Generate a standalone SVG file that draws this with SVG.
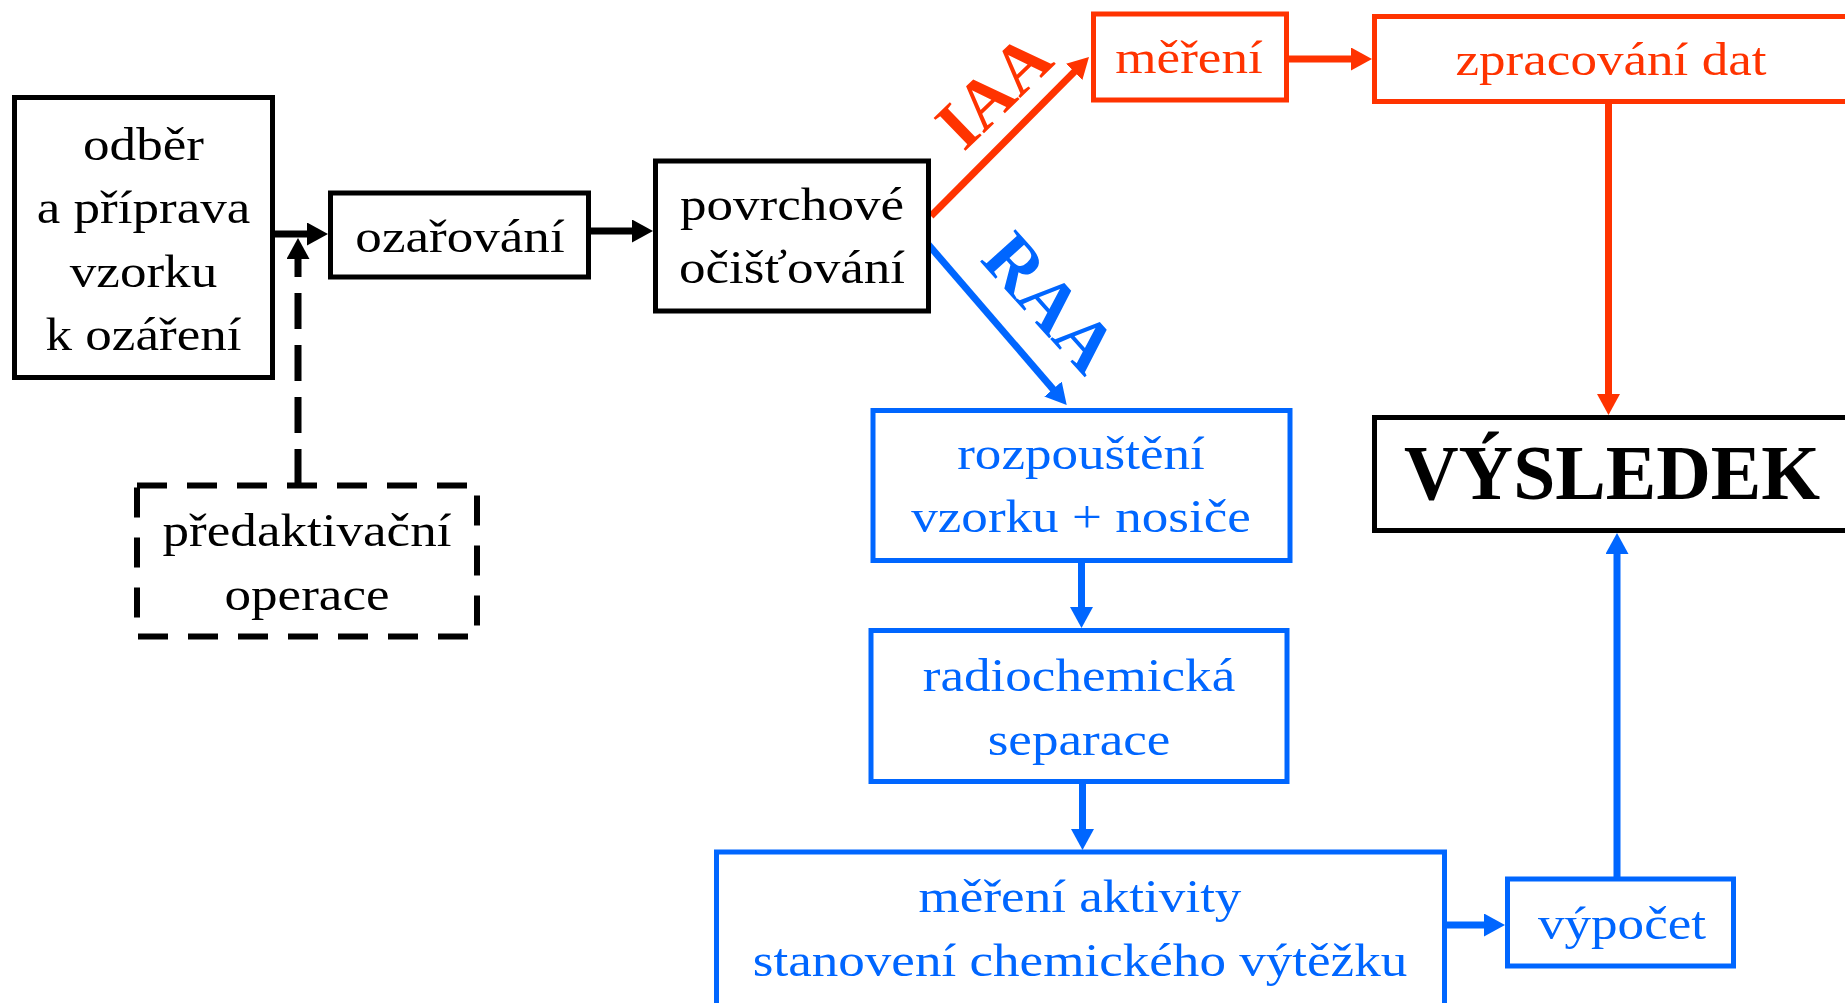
<svg xmlns="http://www.w3.org/2000/svg" width="1845" height="1003" viewBox="0 0 1845 1003">
<style>
.bx{fill:#fff;stroke-width:5}
.k{stroke:#000}.r{stroke:#ff3300}.b{stroke:#0066ff}
.dash{stroke-dasharray:30 20;stroke-width:6}
text{font-family:"Liberation Serif","Times New Roman",serif;font-size:47px;text-anchor:middle}
.tk{fill:#000}.tr{fill:#ff3300}.tb{fill:#0066ff}
.bold{font-weight:bold}
.c{fill:none;stroke-width:7}
</style>
<defs>
<marker id="ak" viewBox="0 0 21 23" refX="2" refY="11.5" markerWidth="21" markerHeight="23" markerUnits="userSpaceOnUse" orient="auto"><path d="M0,0L21,11.5L0,23z" fill="#000"/></marker>
<marker id="ar" viewBox="0 0 21 23" refX="2" refY="11.5" markerWidth="21" markerHeight="23" markerUnits="userSpaceOnUse" orient="auto"><path d="M0,0L21,11.5L0,23z" fill="#ff3300"/></marker>
<marker id="ab" viewBox="0 0 21 23" refX="2" refY="11.5" markerWidth="21" markerHeight="23" markerUnits="userSpaceOnUse" orient="auto"><path d="M0,0L21,11.5L0,23z" fill="#0066ff"/></marker>
</defs>
<rect width="1845" height="1003" fill="#fff"/>
<g id="connectors">
<path class="c k" d="M275,234H309" marker-end="url(#ak)"/>
<path class="c k" d="M591,231H634" marker-end="url(#ak)"/>
<path class="c k" d="M298,485V257" stroke-dasharray="36 16" marker-end="url(#ak)"/>
<path class="c r" d="M931,216L1075.6,70.5" marker-end="url(#ar)"/>
<path class="c b" d="M927,243L1054.3,390.6" marker-end="url(#ab)"/>
<path class="c r" d="M1288,59H1353" marker-end="url(#ar)"/>
<path class="c r" d="M1608.5,103.5V396" marker-end="url(#ar)"/>
<path class="c b" d="M1081.5,562.5V609" marker-end="url(#ab)"/>
<path class="c b" d="M1082.5,783.5V831" marker-end="url(#ab)"/>
<path class="c b" d="M1447,925H1486" marker-end="url(#ab)"/>
<path class="c b" d="M1617,877V552" marker-end="url(#ab)"/>
<text class="tr bold" transform="translate(1010,108) rotate(-44)" style="font-size:70px">IAA</text>
<text class="tb bold" transform="translate(1032,319) rotate(48)" style="font-size:73px">RAA</text>
</g>
<g id="odber">
<rect class="bx k" x="14.5" y="97.5" width="258" height="280"/>
<text class="tk" transform="translate(143.5,160) scale(1.13 1)">odběr</text>
<text class="tk" transform="translate(143.5,223) scale(1.13 1)">a příprava</text>
<text class="tk" transform="translate(143.5,287) scale(1.13 1)">vzorku</text>
<text class="tk" transform="translate(143.5,350) scale(1.13 1)">k ozáření</text>
</g>
<g id="ozarovani">
<rect class="bx k" x="330.5" y="193" width="258" height="84"/>
<text class="tk" transform="translate(460,252) scale(1.13 1)">ozařování</text>
</g>
<g id="povrchove">
<rect class="bx k" x="655.5" y="161" width="273" height="150"/>
<text class="tk" transform="translate(792,220) scale(1.13 1)">povrchové</text>
<text class="tk" transform="translate(792,283) scale(1.13 1)">očišťování</text>
</g>
<g id="predaktivacni">
<rect class="bx k dash" x="137" y="485.5" width="340" height="151"/>
<text class="tk" transform="translate(307,546) scale(1.13 1)">předaktivační</text>
<text class="tk" transform="translate(307,610) scale(1.13 1)">operace</text>
</g>
<g id="mereni">
<rect class="bx r" x="1093.5" y="14" width="193" height="86"/>
<text class="tr" transform="translate(1189,73) scale(1.13 1)">měření</text>
</g>
<g id="zpracovani">
<rect class="bx r" x="1374.5" y="16.5" width="520" height="85"/>
<text class="tr" transform="translate(1611,75) scale(1.13 1)">zpracování dat</text>
</g>
<g id="vysledek">
<rect class="bx k" x="1374.5" y="417.5" width="520" height="113"/>
<text class="tk bold" transform="translate(1612,499) scale(0.97 1)" style="font-size:78px">VÝSLEDEK</text>
</g>
<g id="rozpousteni">
<rect class="bx b" x="873" y="410.5" width="417" height="150"/>
<text class="tb" transform="translate(1081,469) scale(1.13 1)">rozpouštění</text>
<text class="tb" transform="translate(1081,532) scale(1.13 1)">vzorku + nosiče</text>
</g>
<g id="radiochemicka">
<rect class="bx b" x="871" y="630.5" width="416" height="151"/>
<text class="tb" transform="translate(1079,691) scale(1.13 1)">radiochemická</text>
<text class="tb" transform="translate(1079,755) scale(1.13 1)">separace</text>
</g>
<g id="mereni-aktivity">
<rect class="bx b" x="716.5" y="852" width="728" height="170"/>
<text class="tb" transform="translate(1080,912) scale(1.13 1)">měření aktivity</text>
<text class="tb" transform="translate(1080,976) scale(1.13 1)">stanovení chemického výtěžku</text>
</g>
<g id="vypocet">
<rect class="bx b" x="1507.5" y="879" width="226" height="87"/>
<text class="tb" transform="translate(1622,939) scale(1.13 1)">výpočet</text>
</g>
</svg>
